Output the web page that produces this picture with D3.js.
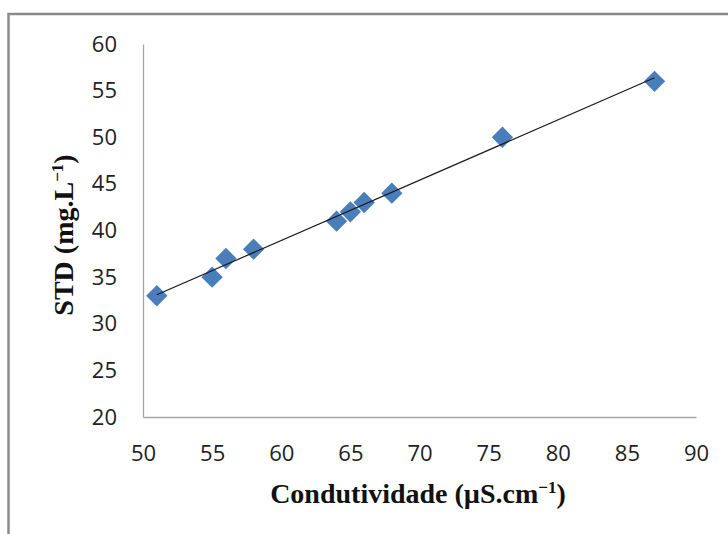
<!DOCTYPE html>
<html>
<head>
<meta charset="utf-8">
<script src="https://cdn.jsdelivr.net/npm/d3@7"></script>
<style>
  html, body { margin: 0; padding: 0; background: #fff; }
  svg { display: block; }
</style>
</head>
<body>
<svg id="chart" width="728" height="534"></svg>
<script>
// Conductivity (µS/cm) vs total dissolved solids (mg/L)
const conductivity = [51, 55, 56, 58, 64, 65, 66, 68, 76, 87];
const std = [33, 35, 37, 38, 41, 42, 43, 44, 50, 56];
const xTicks = [50, 55, 60, 65, 70, 75, 80, 85, 90];
const yTicks = [20, 25, 30, 35, 40, 45, 50, 55, 60];

const svg = d3.select("#chart");

// outer frame (runs past the right and bottom edge of the page)
svg.append("rect")
  .attr("x", 8.5).attr("y", 14)
  .attr("width", 760).attr("height", 560)
  .attr("fill", "none")
  .attr("stroke", "#8a8a8a")
  .attr("stroke-width", 2.5);

const plot = { left: 143, right: 696, top: 44, bottom: 417 };

const x = d3.scaleLinear().domain([50, 90]).range([plot.left, plot.right]);
const y = d3.scaleLinear().domain([20, 60]).range([plot.bottom, plot.top]);

const tickFont = "'Open Sans', 'Noto Sans', sans-serif";

// y axis
const yAxis = svg.append("g")
  .attr("transform", `translate(${plot.left},0)`)
  .call(d3.axisLeft(y).tickValues(yTicks).tickSize(0).tickPadding(26));
yAxis.select(".domain").attr("stroke", "#a6a6a6").attr("stroke-width", 1.3);
yAxis.selectAll("text")
  .attr("font-family", tickFont).attr("font-size", 22).attr("fill", "#222");

// x axis
const xAxis = svg.append("g")
  .attr("transform", `translate(0,${plot.bottom})`)
  .call(d3.axisBottom(x).tickValues(xTicks).tickSize(0).tickPadding(28));
xAxis.select(".domain").attr("stroke", "#a6a6a6").attr("stroke-width", 1.3);
xAxis.selectAll("text")
  .attr("font-family", tickFont).attr("font-size", 22).attr("fill", "#222");

// least-squares trend line over the data range
const mx = d3.mean(conductivity), my = d3.mean(std);
const sxy = d3.sum(conductivity, (v, i) => (v - mx) * (std[i] - my));
const sxx = d3.sum(conductivity, v => (v - mx) * (v - mx));
const slope = sxy / sxx, intercept = my - slope * mx;
const x0 = d3.min(conductivity), x1 = d3.max(conductivity);

// diamond markers
const diamond = d3.symbol().type(d3.symbolDiamond2).size(290);
svg.append("g").selectAll("path")
  .data(conductivity.map((c, i) => ({ c, s: std[i] })))
  .join("path")
  .attr("d", diamond)
  .attr("transform", d => `translate(${x(d.c)},${y(d.s)})`)
  .attr("fill", "#4a7ebb");

svg.append("line")
  .attr("x1", x(x0)).attr("y1", y(slope * x0 + intercept))
  .attr("x2", x(x1)).attr("y2", y(slope * x1 + intercept))
  .attr("stroke", "#1a1a1a").attr("stroke-width", 1.2);

// axis titles
const titleFont = "'Liberation Serif', 'Times New Roman', serif";
const xt = svg.append("text")
  .attr("x", 418).attr("y", 503)
  .attr("text-anchor", "middle")
  .attr("font-family", titleFont).attr("font-weight", "bold").attr("font-size", 28)
  .attr("fill", "#111");
xt.append("tspan").text("Condutividade (µS.cm");
xt.append("tspan").attr("font-size", 17).attr("dy", -10).text("−1");
xt.append("tspan").attr("dy", 10).text(")");

const yt = svg.append("text")
  .attr("transform", "translate(73,235) rotate(-90)")
  .attr("text-anchor", "middle")
  .attr("font-family", titleFont).attr("font-weight", "bold").attr("font-size", 28)
  .attr("fill", "#111");
yt.append("tspan").text("STD (mg.L");
yt.append("tspan").attr("font-size", 17).attr("dy", -10).text("−1");
yt.append("tspan").attr("dy", 10).text(")");
</script>
</body>
</html>
